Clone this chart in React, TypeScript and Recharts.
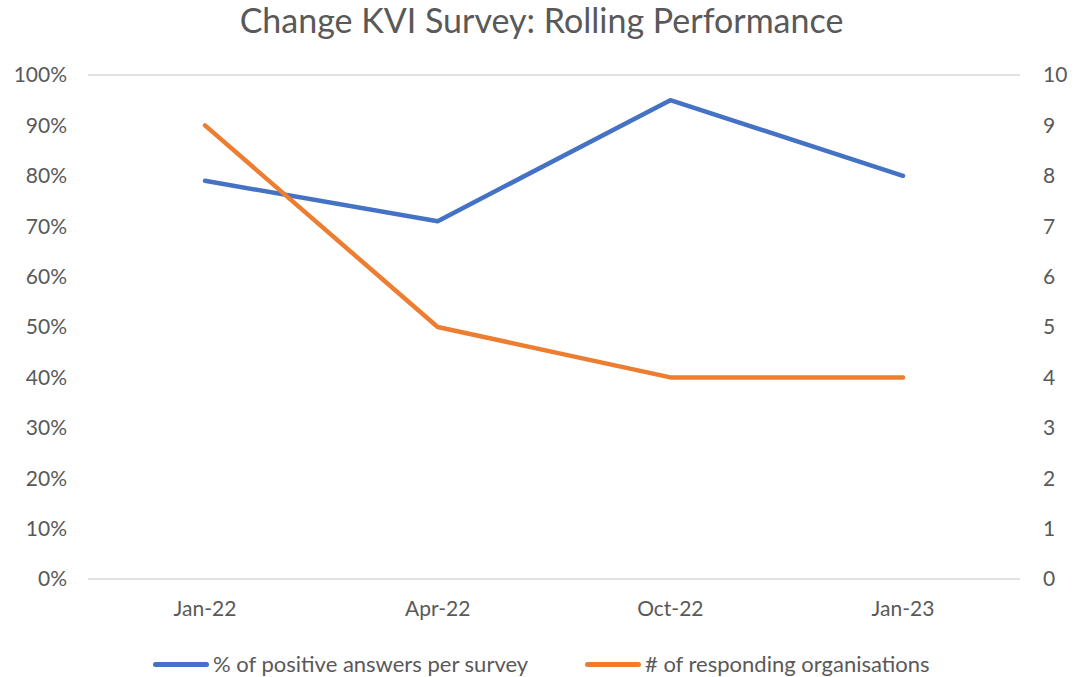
import React from 'react';
import { LineChart, Line, XAxis, YAxis, CartesianGrid } from 'recharts';

const categories = ['Jan-22', 'Apr-22', 'Oct-22', 'Jan-23'];
const positiveShare = [0.79, 0.71, 0.95, 0.8];
const respondingOrgs = [9, 5, 4, 4];
const leftTicks = [0, 0.1, 0.2, 0.3, 0.4, 0.5, 0.6, 0.7, 0.8, 0.9, 1];
const rightTicks = [0, 1, 2, 3, 4, 5, 6, 7, 8, 9, 10];

const data = categories.map((label, i) => ({
    label,
    positive: positiveShare[i],
    orgs: respondingOrgs[i],
}));

const FONT = 'Lato, "Open Sans", sans-serif';
const TEXT = '#595959';
const BLUE = '#4472C4';
const ORANGE = '#ED7D31';

const LegendItem = ({ color, text, left }: { color: string; text: string; left: number }) => (
    <div style={{ position: 'absolute', left, top: 0, display: 'flex', alignItems: 'center', whiteSpace: 'nowrap' }}>
        <div style={{ width: 56, height: 5, borderRadius: 3, background: color, marginRight: 4 }} />
        <span>{text}</span>
    </div>
);

const App: React.FC = () => {
    return (
        <div style={{ position: 'absolute', left: 0, top: 0, width: 1083, height: 677, background: '#fff', fontFamily: FONT, overflow: 'hidden' }}>
            <div style={{ position: 'absolute', top: -1, left: 0, width: 1083, textAlign: 'center', fontSize: 34, color: TEXT, lineHeight: '42px' }}>
                Change KVI Survey: Rolling Performance
            </div>
            <LineChart
                width={1083}
                height={677}
                data={data}
                margin={{ top: 75, right: 0, left: 0, bottom: 0 }}
            >
                <CartesianGrid vertical={false} stroke="#D9D9D9" strokeWidth={1.5} />
                <XAxis
                    dataKey="label"
                    axisLine={false}
                    tickLine={false}
                    height={98}
                    padding={{ left: 117, right: 117 }}
                    tickMargin={16}
                    tick={{ fill: TEXT, fontSize: 21, fontFamily: FONT }}
                />
                <YAxis
                    yAxisId="left"
                    domain={[0, 1]}
                    ticks={leftTicks}
                    width={88}
                    axisLine={false}
                    tickLine={false}
                    tickMargin={15}
                    interval={0}
                    tickFormatter={(v: number) => `${Math.round(v * 100)}%`}
                    tick={{ fill: TEXT, fontSize: 21, fontFamily: FONT }}
                />
                <YAxis
                    yAxisId="right"
                    orientation="right"
                    domain={[0, 10]}
                    ticks={rightTicks}
                    width={63}
                    axisLine={false}
                    tickLine={false}
                    tickMargin={17}
                    interval={0}
                    tick={{ fill: TEXT, fontSize: 21, fontFamily: FONT, textAnchor: 'start' }}
                />
                <Line
                    yAxisId="left"
                    dataKey="positive"
                    stroke={BLUE}
                    strokeWidth={4.5}
                    dot={false}
                    strokeLinecap="round"
                    strokeLinejoin="round"
                    isAnimationActive={false}
                />
                <Line
                    yAxisId="right"
                    dataKey="orgs"
                    stroke={ORANGE}
                    strokeWidth={4.5}
                    dot={false}
                    strokeLinecap="round"
                    strokeLinejoin="round"
                    isAnimationActive={false}
                />
            </LineChart>
            <div style={{ position: 'absolute', top: 650, left: 0, width: 1083, height: 30, fontSize: 22, color: TEXT, lineHeight: '28px' }}>
                <LegendItem color={BLUE} left={153} text="% of positive answers per survey" />
                <LegendItem color={ORANGE} left={585} text="# of responding organisations" />
            </div>
        </div>
    );
};

export default App;
